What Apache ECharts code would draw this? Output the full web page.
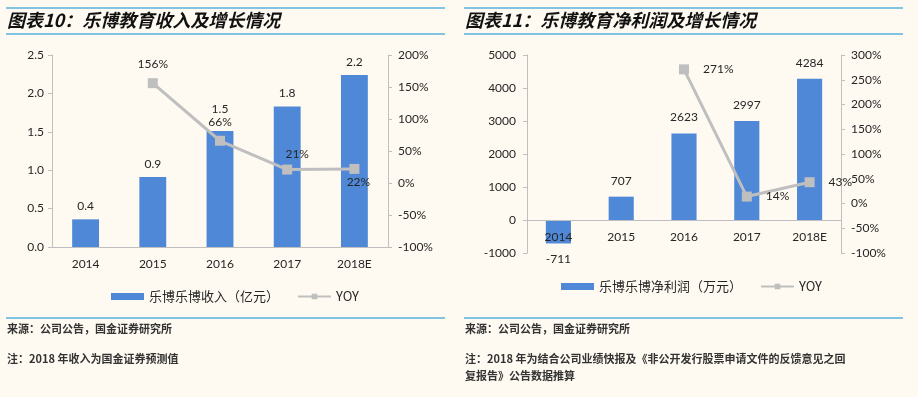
<!DOCTYPE html>
<html>
<head>
<meta charset="utf-8">
<script src="https://cdn.jsdelivr.net/npm/echarts@6/dist/echarts.min.js"></script>
<style>
  html, body { margin: 0; padding: 0; background: #fffaf1; }
  #chart { width: 918px; height: 397px; }
</style>
</head>
<body>
<div id="chart"></div>
<script>
  // data
  const years = ['2014', '2015', '2016', '2017', '2018E'];
  const revenue = [0.36, 0.91, 1.51, 1.83, 2.24];     // 亿元
  const revenueYoy = [null, 156, 66, 21, 22];         // %
  const profit = [-711, 707, 2623, 2997, 4284];       // 万元
  const profitYoy = [null, null, 271, 14, 43];        // %

  const NUM = 'Lato, "Noto Sans CJK SC", sans-serif';
  const CJK = '"Noto Sans CJK SC", sans-serif';
  const BLUE = '#4f88d6';
  const GREY = '#bfbfbf';
  const AXIS = '#bfbfbf';
  const TXT = '#262626';
  const RULE = '#5ab0dc';

  // offset moves the category axis up to the value axis zero line
  function catAxis(grid, offset) {
    return {
      type: 'category', gridIndex: grid, data: years, position: 'bottom', offset: offset,
      axisLine: { onZero: false, lineStyle: { color: AXIS, width: 1 } },
      axisTick: { lineStyle: { color: AXIS }, length: 4 },
      axisLabel: { color: TXT, fontFamily: NUM, fontSize: 12, margin: 11 },
      z: 5
    };
  }

  function valAxis(grid, min, max, step, pos, fmt, margin) {
    return {
      type: 'value', gridIndex: grid, position: pos,
      min: min, max: max, interval: step,
      splitLine: { show: false },
      axisLine: { show: true, onZero: false, lineStyle: { color: AXIS, width: 1 } },
      axisTick: { show: true, length: 4, lineStyle: { color: AXIS } },
      axisLabel: { color: TXT, fontFamily: NUM, fontSize: 12, margin: margin, formatter: fmt }
    };
  }

  const chart = echarts.init(document.getElementById('chart'));

  const revLabelPos = ['top', 'top', 'top', 'top', 'bottom'];
  const revLabelShift = [[0, 0], [0, 0], [0, 0], [10, 4], [4, -6]];

  chart.setOption({
    backgroundColor: '#fffaf1',
    animation: false,
    grid: [
      { left: 52, right: 530, top: 55, bottom: 150, outerBoundsMode: 'none', containLabel: false },
      { left: 527, right: 77, top: 55, bottom: 144, outerBoundsMode: 'none', containLabel: false }
    ],
    xAxis: [catAxis(0, 0), catAxis(1, -33)],
    yAxis: [
      valAxis(0, 0, 2.5, 0.5, 'left', v => v.toFixed(1), 8),
      valAxis(0, -100, 200, 50, 'right', '{value}%', 10),
      valAxis(1, -1000, 5000, 1000, 'left', v => String(v), 11),
      valAxis(1, -100, 300, 50, 'right', '{value}%', 10)
    ],
    legend: [
      {
        left: 106, top: 285, itemWidth: 33, itemHeight: 7, itemGap: 18,
        textStyle: { fontFamily: CJK, fontSize: 13, color: TXT },
        data: [{ name: '乐博乐博收入（亿元）', icon: 'rect' }, 'YOY']
      },
      {
        left: 556, top: 275, itemWidth: 33, itemHeight: 7, itemGap: 18,
        textStyle: { fontFamily: CJK, fontSize: 13, color: TXT },
        formatter: n => n.trim(),
        data: [{ name: '乐博乐博净利润（万元）', icon: 'rect' }, 'YOY ']
      }
    ],
    series: [
      {
        name: '乐博乐博收入（亿元）', type: 'bar', xAxisIndex: 0, yAxisIndex: 0,
        barWidth: '40%', itemStyle: { color: BLUE },
        data: revenue.map((v, i) => ({
          value: v,
          label: { distance: i === 2 ? 16 : 7 }
        })),
        label: {
          show: true, position: 'top', color: TXT, fontFamily: NUM, fontSize: 12,
          formatter: p => p.value.toFixed(1)
        }
      },
      {
        name: 'YOY', type: 'line', xAxisIndex: 0, yAxisIndex: 1,
        symbol: 'rect', symbolSize: 10,
        lineStyle: { color: GREY, width: 3 }, itemStyle: { color: GREY },
        data: revenueYoy.map((v, i) => ({
          value: v,
          label: { position: revLabelPos[i], offset: revLabelShift[i] }
        })),
        label: {
          show: true, color: TXT, fontFamily: NUM, fontSize: 12, distance: 8,
          formatter: p => p.value + '%'
        }
      },
      {
        name: '乐博乐博净利润（万元）', type: 'bar', xAxisIndex: 1, yAxisIndex: 2,
        barWidth: '40%', itemStyle: { color: BLUE },
        data: profit,
        label: {
          show: true, position: 'outside', distance: 10, color: TXT, fontFamily: NUM, fontSize: 12
        }
      },
      {
        name: 'YOY ', type: 'line', xAxisIndex: 1, yAxisIndex: 3,
        symbol: 'rect', symbolSize: 10,
        lineStyle: { color: GREY, width: 3 }, itemStyle: { color: GREY },
        data: profitYoy,
        label: {
          show: true, position: 'right', distance: 14, color: TXT, fontFamily: NUM, fontSize: 12,
          formatter: p => p.value + '%'
        }
      }
    ],
    graphic: [
      // left panel frame rules and texts
      { type: 'line', shape: { x1: 6, y1: 8, x2: 445, y2: 8 }, style: { stroke: RULE, lineWidth: 1.5 } },
      { type: 'line', shape: { x1: 6, y1: 34, x2: 445, y2: 34 }, style: { stroke: RULE, lineWidth: 1.5 } },
      { type: 'line', shape: { x1: 6, y1: 318, x2: 445, y2: 318 }, style: { stroke: RULE, lineWidth: 1.5 } },
      { type: 'text', left: 7, top: 11, style: { text: '图表10：乐博教育收入及增长情况', fill: '#111', font: 'italic bold 18px "Noto Sans CJK SC", sans-serif' } },
      { type: 'text', left: 7, top: 323, style: { text: '来源：公司公告，国金证券研究所', fill: '#333', font: 'bold 11px "Noto Sans CJK SC", sans-serif' } },
      { type: 'text', left: 7, top: 353, style: { text: '注：2018 年收入为国金证券预测值', fill: '#333', font: 'bold 11px "Noto Sans CJK SC", sans-serif' } },
      // right panel
      { type: 'line', shape: { x1: 464, y1: 8, x2: 903, y2: 8 }, style: { stroke: RULE, lineWidth: 1.5 } },
      { type: 'line', shape: { x1: 464, y1: 34, x2: 903, y2: 34 }, style: { stroke: RULE, lineWidth: 1.5 } },
      { type: 'line', shape: { x1: 464, y1: 318, x2: 903, y2: 318 }, style: { stroke: RULE, lineWidth: 1.5 } },
      { type: 'text', left: 465, top: 11, style: { text: '图表11：乐博教育净利润及增长情况', fill: '#111', font: 'italic bold 18px "Noto Sans CJK SC", sans-serif' } },
      { type: 'text', left: 465, top: 323, style: { text: '来源：公司公告，国金证券研究所', fill: '#333', font: 'bold 11px "Noto Sans CJK SC", sans-serif' } },
      { type: 'text', left: 465, top: 353, style: { text: '注：2018 年为结合公司业绩快报及《非公开发行股票申请文件的反馈意见之回', fill: '#333', font: 'bold 11px "Noto Sans CJK SC", sans-serif' } },
      { type: 'text', left: 465, top: 370, style: { text: '复报告》公告数据推算', fill: '#333', font: 'bold 11px "Noto Sans CJK SC", sans-serif' } }
    ]
  });
</script>
</body>
</html>
